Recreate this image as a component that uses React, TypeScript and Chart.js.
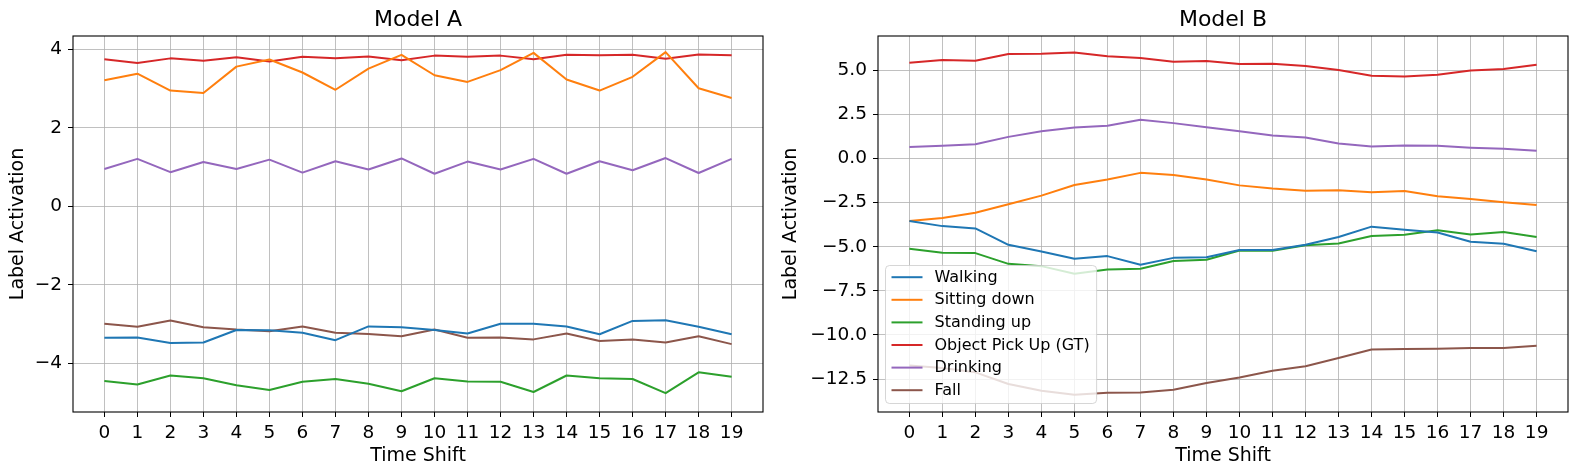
import React, { useEffect, useRef } from 'react';
import Chart from 'chart.js/auto';

// x axis: time shift steps
const timeShift = [0, 1, 2, 3, 4, 5, 6, 7, 8, 9, 10, 11, 12, 13, 14, 15, 16, 17, 18, 19];

const seriesNames = ['Walking', 'Sitting down', 'Standing up', 'Object Pick Up (GT)', 'Drinking', 'Fall'];
const seriesColors = ['#1f77b4', '#ff7f0e', '#2ca02c', '#d62728', '#9467bd', '#8c564b'];

// Model A
const walkingA = [-3.35, -3.34, -3.48, -3.47, -3.15, -3.16, -3.22, -3.41, -3.06, -3.08, -3.15, -3.24, -2.99, -2.99, -3.06, -3.26, -2.92, -2.9, -3.07, -3.26];
const sittingA = [3.21, 3.38, 2.95, 2.89, 3.56, 3.74, 3.41, 2.97, 3.51, 3.86, 3.34, 3.17, 3.47, 3.91, 3.23, 2.95, 3.3, 3.93, 3.01, 2.76];
const standingA = [-4.45, -4.54, -4.31, -4.38, -4.56, -4.68, -4.47, -4.4, -4.52, -4.71, -4.38, -4.46, -4.47, -4.73, -4.31, -4.38, -4.4, -4.76, -4.23, -4.34];
const pickUpA = [3.75, 3.65, 3.77, 3.71, 3.8, 3.69, 3.81, 3.77, 3.82, 3.72, 3.84, 3.81, 3.84, 3.75, 3.86, 3.85, 3.86, 3.76, 3.87, 3.85];
const drinkingA = [0.95, 1.21, 0.87, 1.13, 0.95, 1.19, 0.86, 1.15, 0.94, 1.22, 0.83, 1.14, 0.94, 1.21, 0.83, 1.15, 0.92, 1.23, 0.85, 1.21];
const fallA = [-2.99, -3.07, -2.91, -3.08, -3.14, -3.18, -3.06, -3.22, -3.25, -3.31, -3.14, -3.35, -3.34, -3.39, -3.24, -3.43, -3.39, -3.47, -3.31, -3.51];

// Model B
const walkingB = [-3.54, -3.83, -3.96, -4.89, -5.27, -5.68, -5.53, -6.02, -5.63, -5.59, -5.19, -5.19, -4.89, -4.45, -3.86, -4.03, -4.19, -4.72, -4.83, -5.25];
const sittingB = [-3.54, -3.37, -3.07, -2.59, -2.1, -1.5, -1.19, -0.81, -0.93, -1.19, -1.52, -1.7, -1.82, -1.8, -1.91, -1.84, -2.14, -2.29, -2.48, -2.63];
const standingB = [-5.11, -5.34, -5.36, -5.97, -6.1, -6.53, -6.29, -6.25, -5.81, -5.74, -5.21, -5.23, -4.91, -4.81, -4.39, -4.32, -4.07, -4.3, -4.17, -4.45];
const pickUpB = [5.44, 5.59, 5.55, 5.93, 5.95, 6.02, 5.8, 5.7, 5.49, 5.53, 5.36, 5.38, 5.25, 5.02, 4.7, 4.66, 4.75, 5.0, 5.08, 5.32];
const drinkingB = [0.66, 0.72, 0.81, 1.23, 1.55, 1.76, 1.86, 2.2, 2.01, 1.78, 1.55, 1.31, 1.19, 0.85, 0.68, 0.74, 0.72, 0.62, 0.55, 0.44];
const fallB = [-11.74, -11.88, -12.12, -12.78, -13.16, -13.39, -13.28, -13.26, -13.11, -12.73, -12.41, -12.03, -11.78, -11.31, -10.83, -10.8, -10.78, -10.74, -10.74, -10.61];

const yTicksA = [-4, -2, 0, 2, 4];
const yTicksB = [-12.5, -10, -7.5, -5, -2.5, 0, 2.5, 5];

const FONT = "'DejaVu Sans', sans-serif";

const fmt = (v: number, decimals: number) => v.toFixed(decimals).replace('-', '\u2212');

// draws the black axes frame, then (optionally) a matplotlib-style legend in the lower left
const framePlugin = {
  id: 'frameLegend',
  afterDatasetsDraw(chart: any, _args: any, opts: any) {
    const { ctx, chartArea } = chart;
    const { left, top, right, bottom } = chartArea;
    ctx.save();
    ctx.strokeStyle = '#000';
    ctx.lineWidth = 1.1;
    ctx.strokeRect(left, top, right - left, bottom - top);

    if (opts && opts.display) {
      const sets = chart.data.datasets;
      ctx.font = `16px ${FONT}`;
      const textW = Math.max(...sets.map((d: any) => ctx.measureText(d.label).width));
      const rowH = 22.6;
      const boxW = 6 + 31 + 12 + textW + 7;
      const boxH = rowH * (sets.length - 1) + 25;
      const x0 = left + 7.5;
      const y0 = bottom - 8.5 - boxH;
      ctx.beginPath();
      ctx.roundRect(x0, y0, boxW, boxH, 4);
      ctx.fillStyle = 'rgba(255,255,255,0.8)';
      ctx.fill();
      ctx.strokeStyle = 'rgba(204,204,204,0.8)';
      ctx.lineWidth = 1;
      ctx.stroke();
      ctx.textBaseline = 'middle';
      ctx.textAlign = 'left';
      sets.forEach((d: any, i: number) => {
        const cy = y0 + 11.7 + i * rowH;
        ctx.beginPath();
        ctx.strokeStyle = d.borderColor;
        ctx.lineWidth = 2;
        ctx.moveTo(x0 + 6, cy);
        ctx.lineTo(x0 + 37, cy);
        ctx.stroke();
        ctx.fillStyle = '#000';
        ctx.fillText(d.label, x0 + 49, cy + 0.5);
      });
    }
    ctx.restore();
  },
};

interface PanelProps {
  title: string;
  series: number[][];
  yMin: number;
  yMax: number;
  yTicks: number[];
  decimals: number;
  showLegend: boolean;
  left: number;
  width: number;
  yAxisWidth: number;
  yTitlePad: number;
  rightPad: number;
}

const LinePanel: React.FC<PanelProps> = ({ title, series, yMin, yMax, yTicks, decimals, showLegend, left, width, yAxisWidth, yTitlePad, rightPad }) => {
  const canvasRef = useRef<HTMLCanvasElement>(null);

  useEffect(() => {
    if (!canvasRef.current) return;
    const chart = new Chart(canvasRef.current, {
      type: 'line',
      data: {
        datasets: series.map((vals, i) => ({
          label: seriesNames[i],
          data: timeShift.map((x, j) => ({ x, y: vals[j] })),
          borderColor: seriesColors[i],
          backgroundColor: seriesColors[i],
          borderWidth: 2,
          pointRadius: 0,
          tension: 0,
          borderJoinStyle: 'round',
        })),
      },
      options: {
        responsive: false,
        animation: false,
        layout: { padding: { left: 0, right: rightPad, top: 0, bottom: 0 } },
        plugins: {
          legend: { display: false },
          tooltip: { enabled: false },
          title: {
            display: true,
            text: title,
            fullSize: false,
            color: '#000',
            font: { family: FONT, size: 22, weight: 'normal', lineHeight: 1.2 },
            padding: { top: 6.6, bottom: 3 },
          },
          frameLegend: { display: showLegend },
        } as any,
        scales: {
          x: {
            type: 'linear',
            min: -0.95,
            max: 19.95,
            afterBuildTicks: (scale: any) => {
              scale.ticks = timeShift.map((v) => ({ value: v }));
            },
            afterFit: (scale: any) => {
              scale.height = 63;
            },
            ticks: {
              autoSkip: false,
              maxRotation: 0,
              color: '#000',
              padding: 5,
              font: { family: FONT, size: 18.5 },
              callback: (v: any) => String(v),
            },
            grid: { color: '#b0b0b0', lineWidth: 0.8, tickLength: 5, tickColor: '#000', tickWidth: 1 },
            border: { display: false },
            title: {
              display: true,
              text: 'Time Shift',
              color: '#000',
              font: { family: FONT, size: 19, lineHeight: 1.2 },
              padding: { top: 0, bottom: 7.5 },
            },
          },
          y: {
            type: 'linear',
            min: yMin,
            max: yMax,
            afterBuildTicks: (scale: any) => {
              scale.ticks = yTicks.map((v) => ({ value: v }));
            },
            afterFit: (scale: any) => {
              scale.width = yAxisWidth;
            },
            ticks: {
              color: '#000',
              padding: 6,
              font: { family: FONT, size: 18.5 },
              callback: (v: any) => fmt(Number(v), decimals),
            },
            grid: { color: '#b0b0b0', lineWidth: 0.8, tickLength: 5, tickColor: '#000', tickWidth: 1 },
            border: { display: false },
            title: {
              display: true,
              text: 'Label Activation',
              color: '#000',
              font: { family: FONT, size: 19, lineHeight: 1.2 },
              padding: { top: yTitlePad, bottom: 0 },
            },
          },
        },
      },
      plugins: [framePlugin],
    });
    return () => chart.destroy();
  }, []);

  return (
    <canvas
      ref={canvasRef}
      width={width}
      height={475}
      style={{ position: 'absolute', left, top: 0, display: 'block' }}
    />
  );
};

export default function App() {
  return (
    <div style={{ position: 'absolute', left: 0, top: 0, width: 1577, height: 475, background: '#fff' }}>
      <LinePanel
        title="Model A"
        series={[walkingA, sittingA, standingA, pickUpA, drinkingA, fallA]}
        yMin={-5.24}
        yMax={4.34}
        yTicks={yTicksA}
        decimals={0}
        showLegend={false}
        left={0}
        width={770}
        yAxisWidth={73}
        yTitlePad={7}
        rightPad={7}
      />
      <LinePanel
        title="Model B"
        series={[walkingB, sittingB, standingB, pickUpB, drinkingB, fallB]}
        yMin={-14.37}
        yMax={6.95}
        yTicks={yTicksB}
        decimals={1}
        showLegend={true}
        left={770}
        width={807}
        yAxisWidth={108}
        yTitlePad={9.6}
        rightPad={9}
      />
    </div>
  );
}
